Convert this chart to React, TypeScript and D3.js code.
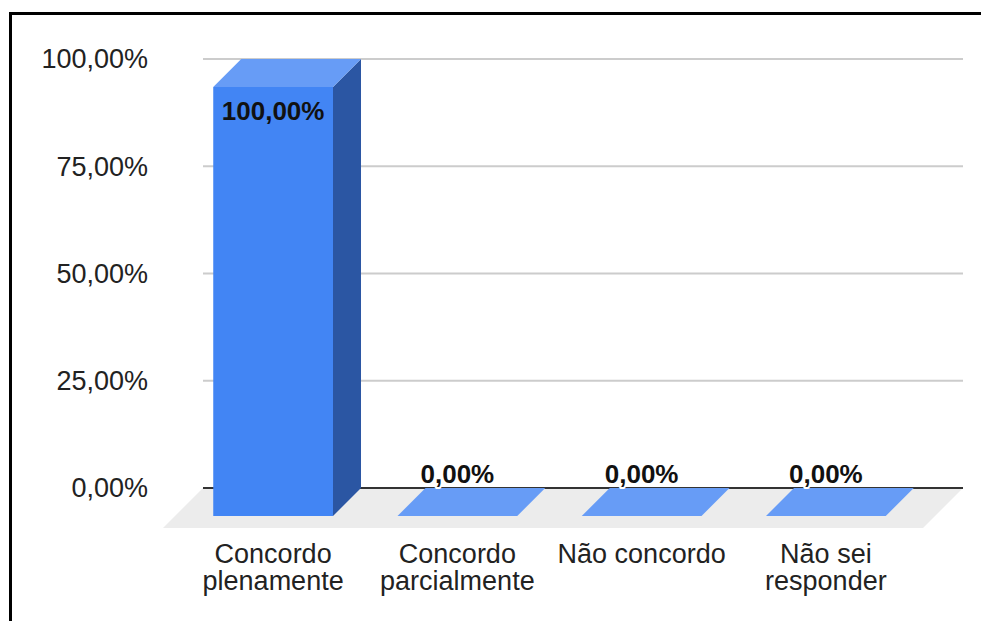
import React, { useEffect, useRef } from "react";
import * as d3 from "d3";

const categories = [
  "Concordo plenamente",
  "Concordo parcialmente",
  "Não concordo",
  "Não sei responder",
];
const values = [1.0, 0.0, 0.0, 0.0];
const tickValues = [0, 0.25, 0.5, 0.75, 1.0];

const W = 981;
const H = 621;
const FONT = "'Liberation Sans', Arial, sans-serif";

const fmtPct = (v: number) =>
  (v * 100).toFixed(2).replace(".", ",") + "%";

export default function App() {
  const ref = useRef<SVGSVGElement | null>(null);

  useEffect(() => {
    const svg = d3.select(ref.current);
    svg.selectAll("*").remove();

    // back plane (gridlines) and front plane (bar faces)
    const depth = 28;
    const floorDepth = 40;
    const gridLeft = 203;
    const gridRight = 963;
    const y = d3.scaleLinear().domain([0, 1]).range([488, 59]);
    const yFront = (v: number) => y(v) + depth;
    const x = d3
      .scaleBand<string>()
      .domain(categories)
      .range([181, 918])
      .paddingInner(0.35)
      .paddingOuter(0.175);

    // frame
    svg
      .append("path")
      .attr("d", `M${10.5},${H} L${10.5},${13.5} L${W},${13.5}`)
      .attr("fill", "none")
      .attr("stroke", "#000")
      .attr("stroke-width", 3);

    // floor
    svg
      .append("path")
      .attr(
        "d",
        `M${gridLeft},${y(0)} L${gridRight},${y(0)} L${gridRight - floorDepth},${y(0) + floorDepth} L${gridLeft - floorDepth},${y(0) + floorDepth} Z`
      )
      .attr("fill", "#ececec");

    // gridlines
    svg
      .append("g")
      .selectAll("line")
      .data(tickValues.filter((t) => t > 0))
      .join("line")
      .attr("x1", gridLeft)
      .attr("x2", gridRight)
      .attr("y1", (d) => y(d))
      .attr("y2", (d) => y(d))
      .attr("stroke", "#cccccc")
      .attr("stroke-width", 2);

    // baseline
    svg
      .append("line")
      .attr("x1", gridLeft)
      .attr("x2", gridRight)
      .attr("y1", y(0))
      .attr("y2", y(0))
      .attr("stroke", "#333333")
      .attr("stroke-width", 2);

    // tick labels
    svg
      .append("g")
      .selectAll("text")
      .data(tickValues)
      .join("text")
      .attr("x", 148)
      .attr("y", (d) => y(d))
      .attr("dy", "0.35em")
      .attr("text-anchor", "end")
      .attr("font-family", FONT)
      .attr("font-size", 27)
      .attr("fill", "#222")
      .text((d) => fmtPct(d));

    // bars
    const bars = svg
      .append("g")
      .selectAll("g")
      .data(categories.map((c, i) => ({ c, v: values[i] })))
      .join("g");

    bars
      .filter((d) => d.v > 0)
      .append("rect")
      .attr("x", (d) => x(d.c)!)
      .attr("y", (d) => yFront(d.v))
      .attr("width", x.bandwidth())
      .attr("height", (d) => yFront(0) - yFront(d.v))
      .attr("fill", "#4285f4");

    bars
      .filter((d) => d.v > 0)
      .append("path")
      .attr("d", (d) => {
        const x1 = x(d.c)! + x.bandwidth();
        const yt = yFront(d.v);
        const yb = yFront(0);
        return `M${x1},${yt} L${x1 + depth},${yt - depth} L${x1 + depth},${yb - depth} L${x1},${yb} Z`;
      })
      .attr("fill", "#2b56a3");

    bars
      .append("path")
      .attr("d", (d) => {
        const x0 = x(d.c)!;
        const x1 = x0 + x.bandwidth();
        const yt = yFront(d.v);
        return `M${x0},${yt} L${x1},${yt} L${x1 + depth},${yt - depth} L${x0 + depth},${yt - depth} Z`;
      })
      .attr("fill", "#679cf6");

    // value labels
    bars
      .append("text")
      .attr("x", (d) => x(d.c)! + x.bandwidth() / 2)
      .attr("y", (d) => (d.v > 0.5 ? yFront(d.v) + 33 : y(0) - 5))
      .attr("text-anchor", "middle")
      .attr("font-family", FONT)
      .attr("font-weight", "bold")
      .attr("font-size", 26)
      .attr("fill", "#111")
      .attr("stroke", (d) => (d.v > 0.5 ? "none" : "#fff"))
      .attr("stroke-width", 4)
      .attr("stroke-linejoin", "round")
      .attr("paint-order", "stroke")
      .text((d) => fmtPct(d.v));

    // category labels, wrapped to the band step
    const step = x.step();
    const labels = svg
      .append("g")
      .selectAll("text")
      .data(categories)
      .join("text")
      .attr("x", (d) => x(d)! + x.bandwidth() / 2)
      .attr("y", 563)
      .attr("text-anchor", "middle")
      .attr("font-family", FONT)
      .attr("font-size", 27)
      .attr("fill", "#222");

    labels.each(function (d) {
      const t = d3.select(this);
      const cx = +t.attr("x");
      const words = d.split(" ");
      let line: string[] = [];
      let tspan = t.append("tspan").attr("x", cx).attr("dy", 0);
      for (const w of words) {
        line.push(w);
        tspan.text(line.join(" "));
        if ((tspan.node() as SVGTSpanElement).getComputedTextLength() > step - 4 && line.length > 1) {
          line.pop();
          tspan.text(line.join(" "));
          line = [w];
          tspan = t.append("tspan").attr("x", cx).attr("dy", 27).text(w);
        }
      }
    });
  }, []);

  return (
    <svg
      ref={ref}
      width={W}
      height={H}
      style={{ position: "absolute", left: 0, top: 0, background: "#fff" }}
    />
  );
}
